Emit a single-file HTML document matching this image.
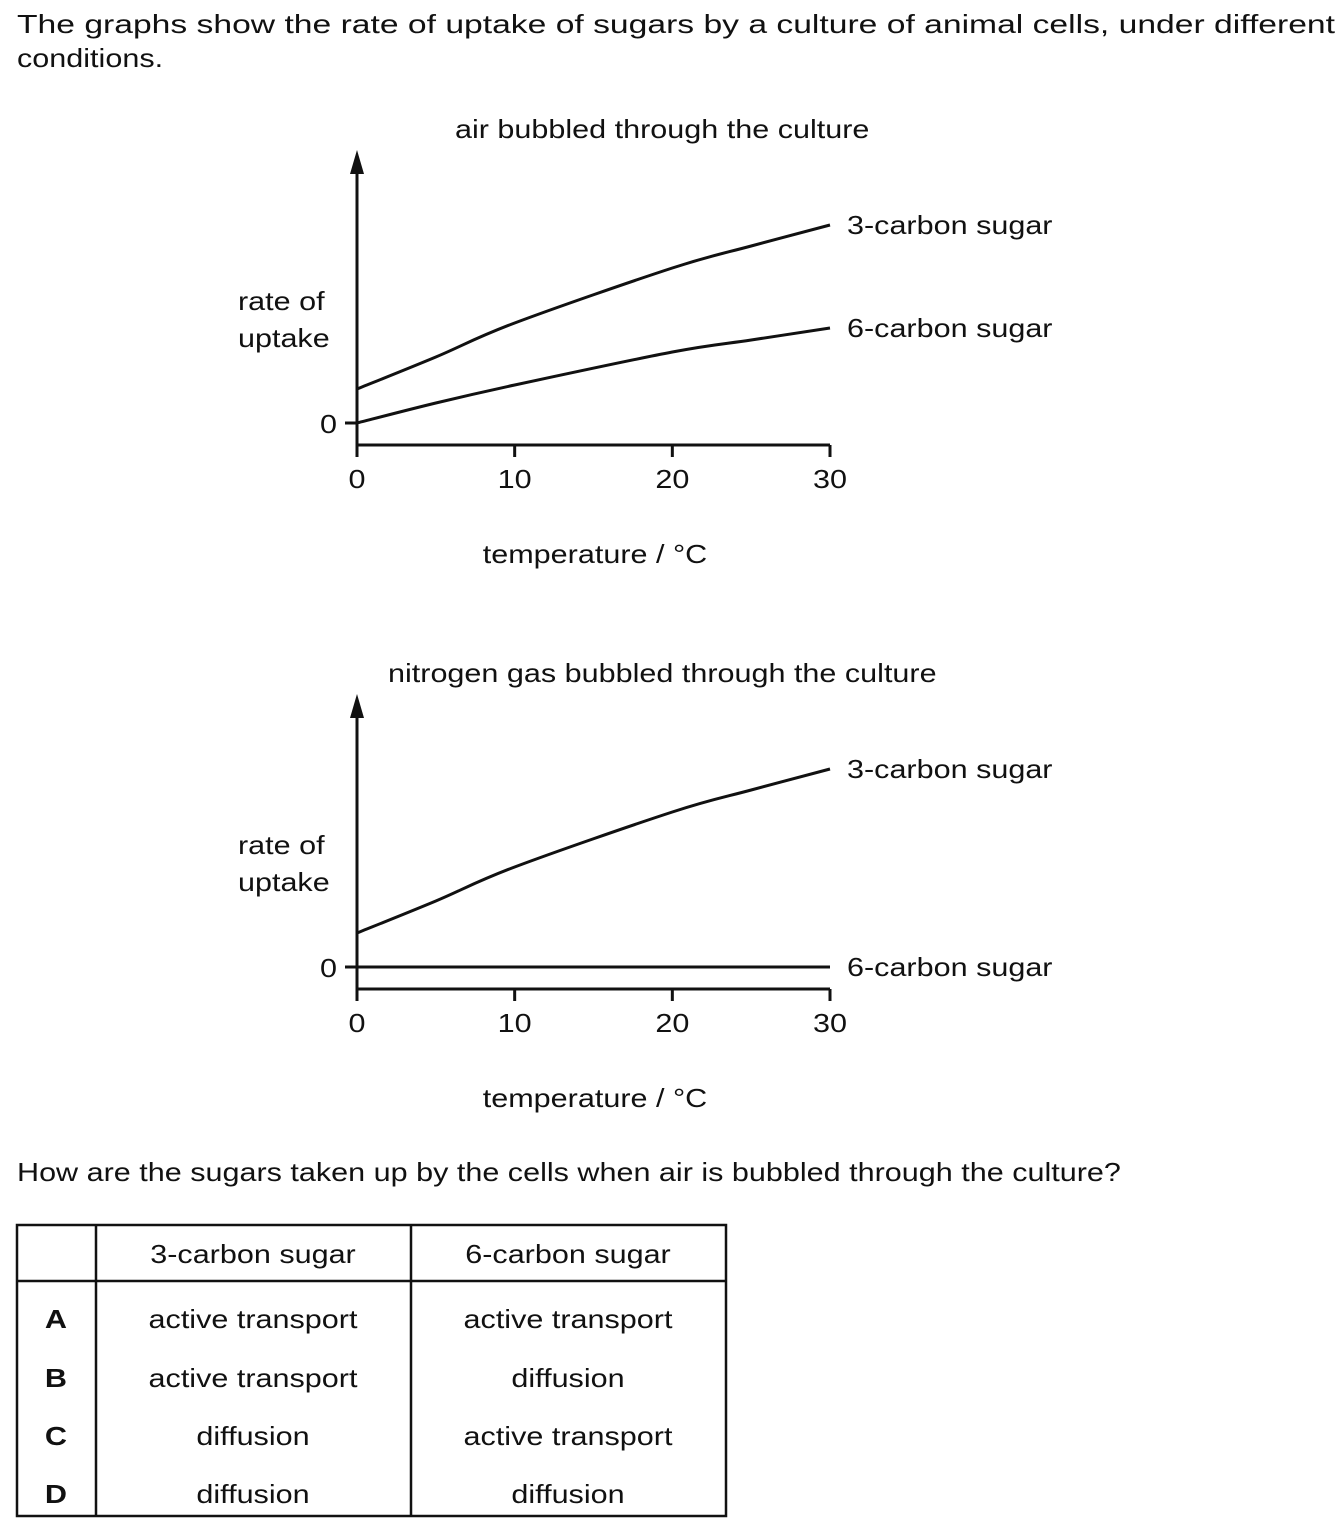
<!DOCTYPE html>
<html><head><meta charset="utf-8"><style>
html,body{margin:0;padding:0;background:#fff;}
svg{display:block;font-family:"Liberation Sans",Arial,sans-serif;}
text{fill:#111;font-size:26px;}
</style></head><body>
<svg id="fig" width="1344" height="1530" viewBox="0 0 1344 1530">
<text id="intro1" x="17" y="33" textLength="1318" lengthAdjust="spacingAndGlyphs">The graphs show the rate of uptake of sugars by a culture of animal cells, under different</text>
<text x="17" y="67">conditions.</text>
<g id="g1"></g>
<g id="g2"></g>
<text x="17" y="1181">How are the sugars taken up by the cells when air is bubbled through the culture?</text>
<g stroke="#111" stroke-width="2.5" fill="none">
<rect x="17" y="1225" width="709" height="291"/>
<line x1="17" y1="1281" x2="726" y2="1281"/>
<line x1="96" y1="1225" x2="96" y2="1516"/>
<line x1="411" y1="1225" x2="411" y2="1516"/>
</g>
<g text-anchor="middle">
<text x="253" y="1263">3-carbon sugar</text>
<text x="568" y="1263">6-carbon sugar</text>
<text x="56" y="1328" font-weight="bold">A</text>
<text x="253" y="1328">active transport</text>
<text x="568" y="1328">active transport</text>
<text x="56" y="1387" font-weight="bold">B</text>
<text x="253" y="1387">active transport</text>
<text x="568" y="1387">diffusion</text>
<text x="56" y="1445" font-weight="bold">C</text>
<text x="253" y="1445">diffusion</text>
<text x="568" y="1445">active transport</text>
<text x="56" y="1503" font-weight="bold">D</text>
<text x="253" y="1503">diffusion</text>
<text x="568" y="1503">diffusion</text>
</g>
</svg>
<script>
const temps = [0, 5, 10, 20, 25, 30];
const xTicks = [0, 10, 20, 30];
const airThreeCarbon = [3.4, 6.6, 10.0, 15.5, 17.7, 19.8];
const airSixCarbon = [0, 2.0, 3.8, 7.1, 8.3, 9.5];
const n2ThreeCarbon = [3.4, 6.6, 10.0, 15.5, 17.7, 19.8];
const n2SixCarbon = [0, 0, 0, 0, 0, 0];
const NS = 'http://www.w3.org/2000/svg';
function mk(parent, tag, attrs, txt) {
  const e = document.createElementNS(NS, tag);
  for (const k in attrs) e.setAttribute(k, attrs[k]);
  if (txt !== undefined) e.textContent = txt;
  parent.appendChild(e);
  return e;
}
function smoothPath(pts) {
  let d = `M${pts[0][0]} ${pts[0][1]}`;
  for (let i = 0; i < pts.length - 1; i++) {
    const p0 = pts[Math.max(0, i - 1)], p1 = pts[i], p2 = pts[i + 1], p3 = pts[Math.min(pts.length - 1, i + 2)];
    const c1x = p1[0] + (p2[0] - p0[0]) / 6, c1y = p1[1] + (p2[1] - p0[1]) / 6;
    const c2x = p2[0] - (p3[0] - p1[0]) / 6, c2y = p2[1] - (p3[1] - p1[1]) / 6;
    d += ` C${c1x} ${c1y} ${c2x} ${c2y} ${p2[0]} ${p2[1]}`;
  }
  return d;
}
function drawGraph(g, dy, title, titleX, s3, s6) {
  const x = t => 357 + (t / 30) * 473;
  const y = v => 423 + dy - v * 10;
  const t = mk(g, 'text', {x: titleX, y: 138 + dy}, title);
  
  
  const ax = mk(g, 'path', {d: `M357 ${165+dy} V${445+dy} H830`, fill: 'none', stroke: '#111', 'stroke-width': 3});
  
  
  const ar = mk(g, 'path', {d: `M357 ${150+dy} L350 ${174+dy} L364 ${174+dy} Z`, fill: '#111'});
  
  
  const zt = mk(g, 'line', {x1: 345, y1: y(0), x2: 357, y2: y(0), stroke: '#111', 'stroke-width': 3});
  
  
  const zl = mk(g, 'text', {x: 337, y: y(0) + 10, 'text-anchor': 'end'}, '0');
  
  
  xTicks.forEach(v => {
    const tk = mk(g, 'line', {x1: x(v), y1: 445 + dy, x2: x(v), y2: 457 + dy, stroke: '#111', 'stroke-width': 3});
    
    
    const tl = mk(g, 'text', {x: x(v), y: 488 + dy, 'text-anchor': 'middle'}, String(v));
    
    
  });
  const r1 = mk(g, 'text', {x: 238, y: 310 + dy}, 'rate of');
  
  
  const r2 = mk(g, 'text', {x: 238, y: 347 + dy}, 'uptake');
  
  
  const xt = mk(g, 'text', {x: 595, y: 563 + dy, 'text-anchor': 'middle'}, 'temperature / °C');
  
  
  [[s3, '3-carbon sugar', 'line-3-carbon'], [s6, '6-carbon sugar', 'line-6-carbon']].forEach(([s, lab, nm]) => {
    const pts = s.map((v, i) => [x(temps[i]), y(v)]);
    const p = mk(g, 'path', {d: smoothPath(pts), fill: 'none', stroke: '#111', 'stroke-width': 3});
    
    
    const l = mk(g, 'text', {x: 847, y: y(s[s.length - 1]) + 9}, lab);
    
    
  });
}
drawGraph(document.getElementById('g1'), 0, 'air bubbled through the culture', 455, airThreeCarbon, airSixCarbon);
drawGraph(document.getElementById('g2'), 544, 'nitrogen gas bubbled through the culture', 388, n2ThreeCarbon, n2SixCarbon);
document.querySelectorAll('text').forEach(t => {
  if (t.id === 'intro1') return;
  const w = t.getComputedTextLength();
  if (w > 0) {
    t.setAttribute('textLength', (w * 1.175).toFixed(1));
    t.setAttribute('lengthAdjust', 'spacingAndGlyphs');
  }
});
</script>
</body></html>
